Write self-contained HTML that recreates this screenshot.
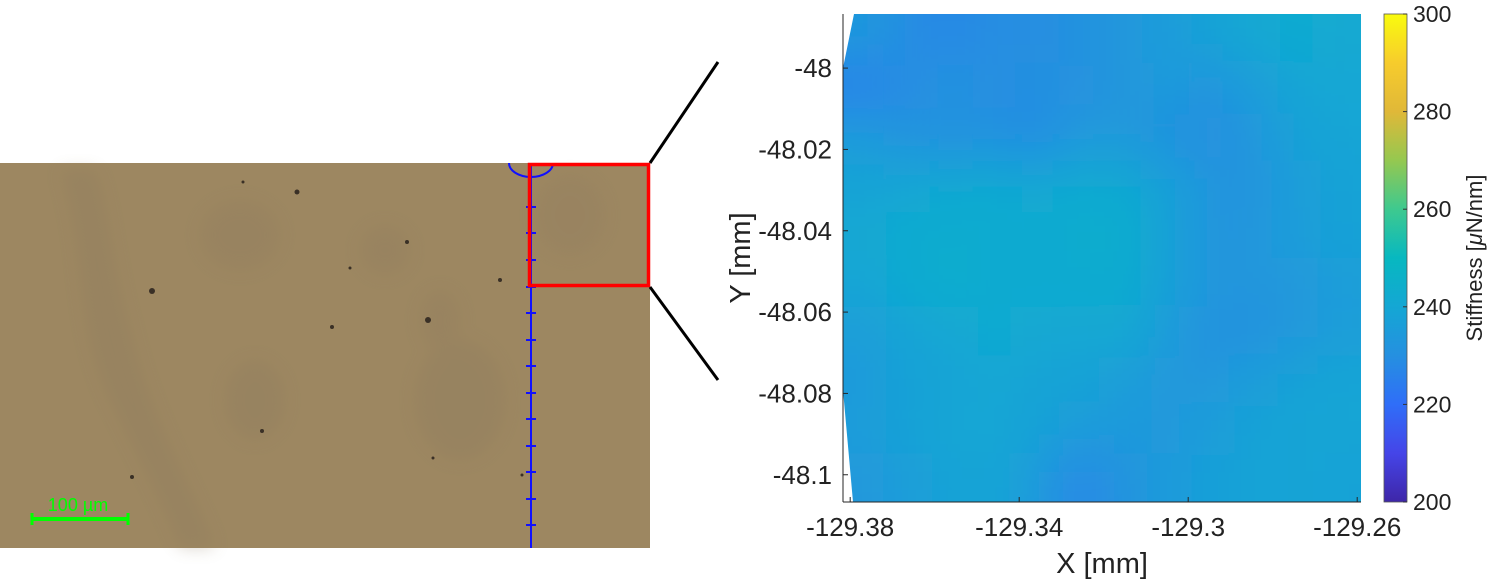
<!DOCTYPE html>
<html><head><meta charset="utf-8"><style>
html,body{margin:0;padding:0;background:#fff;}
svg{display:block;font-family:"Liberation Sans",Arial,sans-serif;}
</style></head><body>
<svg id="fig" width="1495" height="579" viewBox="0 0 1495 579">
<defs>
  <filter id="blur" x="-10%" y="-10%" width="120%" height="120%"><feGaussianBlur stdDeviation="28"/></filter>
  <filter id="blur2"><feGaussianBlur stdDeviation="8"/></filter>
  <clipPath id="dataClip"><polygon points="854,14 1361,14 1361,502 853,502 843,390 843,68"/></clipPath>
  <linearGradient id="cbGrad" x1="0" y1="1" x2="0" y2="0">
    <stop offset="0" stop-color="#3e26a8"/><stop offset="0.1" stop-color="#4545e8"/>
    <stop offset="0.2" stop-color="#2f6ef8"/><stop offset="0.3" stop-color="#2590e0"/>
    <stop offset="0.4" stop-color="#14a7d4"/><stop offset="0.5" stop-color="#07b8c0"/>
    <stop offset="0.6" stop-color="#3ec98f"/><stop offset="0.7" stop-color="#95c850"/>
    <stop offset="0.8" stop-color="#e0b838"/><stop offset="0.9" stop-color="#f7cc2c"/>
    <stop offset="1" stop-color="#f9fb0e"/>
  </linearGradient>
</defs>

<g>
  <rect x="0" y="163" width="650" height="385" fill="#9d8761"/>
  <g filter="url(#blur2)" opacity="0.3">
    <path d="M60,170 C90,260 70,330 120,420 C150,480 170,520 180,548 L215,548 C190,480 150,420 130,330 C110,260 110,210 95,170 Z" fill="#8c7a5e"/>
    <ellipse cx="255" cy="400" rx="30" ry="40" fill="#8c7a5e"/>
    <ellipse cx="240" cy="235" rx="40" ry="35" fill="#8f7c5f"/>
    <ellipse cx="385" cy="250" rx="25" ry="25" fill="#8f7c5f"/>
    <ellipse cx="460" cy="400" rx="45" ry="60" fill="#8c7a5e"/>
    <ellipse cx="440" cy="320" rx="20" ry="30" fill="#8f7c5f"/>
    <ellipse cx="570" cy="215" rx="35" ry="40" fill="#907d60"/>
  </g>
  <g fill="#3a3026">
    <circle cx="152" cy="291" r="3"/><circle cx="297" cy="192" r="2.5"/><circle cx="428" cy="320" r="3"/>
    <circle cx="332" cy="327" r="2"/><circle cx="407" cy="242" r="2"/><circle cx="262" cy="431" r="2"/>
    <circle cx="500" cy="280" r="2"/><circle cx="243" cy="182" r="1.5"/><circle cx="350" cy="268" r="1.5"/>
    <circle cx="433" cy="458" r="1.5"/><circle cx="132" cy="477" r="2"/><circle cx="522" cy="475" r="1.5"/>
  </g>
  <g stroke="#1010ff" stroke-width="2" fill="none">
    <path d="M509,163 A22,14 0 0 0 553,163"/>
    <line x1="531" y1="163" x2="531" y2="548"/>
    <line x1="526" y1="207" x2="536" y2="207"/><line x1="526" y1="233" x2="536" y2="233"/>
    <line x1="526" y1="260" x2="536" y2="260"/><line x1="526" y1="287" x2="536" y2="287"/>
    <line x1="526" y1="313" x2="536" y2="313"/><line x1="526" y1="340" x2="536" y2="340"/>
    <line x1="526" y1="366" x2="536" y2="366"/><line x1="526" y1="393" x2="536" y2="393"/>
    <line x1="526" y1="419" x2="536" y2="419"/><line x1="526" y1="446" x2="536" y2="446"/>
    <line x1="526" y1="472" x2="536" y2="472"/><line x1="526" y1="499" x2="536" y2="499"/>
    <line x1="526" y1="525" x2="536" y2="525"/>
  </g>
  <rect x="529.5" y="164.5" width="119" height="121" fill="none" stroke="#ff0000" stroke-width="3.5"/>
  <g>
    <line x1="32" y1="519" x2="128" y2="519" stroke="#00ff00" stroke-width="4"/>
    <line x1="32" y1="513" x2="32" y2="525" stroke="#00ff00" stroke-width="3"/>
    <line x1="128" y1="513" x2="128" y2="525" stroke="#00ff00" stroke-width="3"/>
    <text x="78" y="511" fill="#00ff00" font-size="18" text-anchor="middle">100 µm</text>
  </g>
</g>
<line x1="650" y1="163" x2="718" y2="62" stroke="#000" stroke-width="3"/>
<line x1="650" y1="287" x2="718" y2="380" stroke="#000" stroke-width="3"/>

<g id="heat" clip-path="url(#dataClip)"><g id="heatInner" filter="url(#blur)"></g></g>
<g id="axes"></g>

<rect x="1384" y="14" width="23" height="488" fill="url(#cbGrad)" stroke="#555" stroke-width="0.8"/>
<g id="cbTicks"></g>
<text transform="translate(1482,258) rotate(-90)" font-size="22" text-anchor="middle" fill="#222">Stiffness [<tspan font-style="italic">μ</tspan>N/nm]</text>
<text x="1102" y="573" font-size="29" text-anchor="middle" fill="#222">X [mm]</text>
<text transform="translate(750,258) rotate(-90)" font-size="29" text-anchor="middle" fill="#222">Y [mm]</text>
</svg>
<script>
const xTicks=[-129.38,-129.34,-129.3,-129.26];
const xTickLabels=["-129.38","-129.34","-129.3","-129.26"];
const yTicks=[-48,-48.02,-48.04,-48.06,-48.08,-48.1];
const yTickLabels=["-48","-48.02","-48.04","-48.06","-48.08","-48.1"];
const cbTicks=[200,220,240,260,280,300];
const stiffRow0=[234,229,227,230,229,231,233,235,238,241,242,241];
const stiffRow1=[225,229,233,229,231,230,233,235,231,235,239,240];
const stiffRow2=[236,231,229,231,227,235,233,231,229,233,238,239];
const stiffRow3=[238,240,242,242,241,242,242,237,233,231,236,238];
const stiffRow4=[241,242,243,242,242,243,244,238,231,233,236,238];
const stiffRow5=[239,242,244,242,242,242,243,237,233,233,233,236];
const stiffRow6=[236,239,240,242,241,240,242,235,230,231,233,236];
const stiffRow7=[234,238,238,240,238,238,236,233,233,236,238,239];
const stiffRow8=[236,238,240,240,238,236,234,233,236,238,239,239];
const stiffRow9=[233,236,238,239,235,226,233,234,237,238,239,238];
const rows=[stiffRow0,stiffRow1,stiffRow2,stiffRow3,stiffRow4,stiffRow5,stiffRow6,stiffRow7,stiffRow8,stiffRow9];

const NS="http://www.w3.org/2000/svg";
const X0=843,X1=1361,Y0=14,Y1=502;
const xMin=-129.3817,xMax=-129.2591,yTop=-47.9867,yBot=-48.1067;
const xs=v=>X0+(v-xMin)/(xMax-xMin)*(X1-X0);
const ys=v=>Y0+(v-yTop)/(yBot-yTop)*(Y1-Y0);
const cs=v=>Y1-(v-200)/100*(Y1-Y0);
const stops=[[0,[62,38,168]],[0.1,[69,69,232]],[0.2,[47,110,248]],[0.3,[37,144,224]],[0.4,[20,167,212]],[0.5,[7,184,192]],[0.6,[62,201,143]],[0.7,[149,200,80]],[0.8,[224,184,56]],[0.9,[247,204,44]],[1,[249,251,14]]];
function col(v){let t=Math.max(0,Math.min(1,(v-200)/100));for(let i=1;i<stops.length;i++){if(t<=stops[i][0]){const a=stops[i-1],b=stops[i];const f=(t-a[0])/(b[0]-a[0]);const c=a[1].map((q,k)=>Math.round(q+(b[1][k]-q)*f));return `rgb(${c})`;}}return 'rgb(249,251,14)';}
function mk(tag,attrs,parent){const e=document.createElementNS(NS,tag);for(const k in attrs)e.setAttribute(k,attrs[k]);parent.appendChild(e);return e;}

const heat=document.getElementById('heatInner');
const nR=rows.length,nC=rows[0].length;
const cw=(X1-X0)/nC,ch=(Y1-Y0)/nR;
mk('rect',{x:X0-80,y:Y0-80,width:X1-X0+160,height:Y1-Y0+160,fill:col(236)},heat);
rows.forEach((r,i)=>r.forEach((v,j)=>{
  let x=X0+j*cw,y=Y0+i*ch,w=cw,h=ch;
  if(j===0){x-=70;w+=70;} if(j===nC-1){w+=70;}
  if(i===0){y-=70;h+=70;} if(i===nR-1){h+=70;}
  const c=mk('rect',{x:x,y:y,width:w+1,height:h+1,fill:col(v)},heat);
  
  
}));

const ax=document.getElementById('axes');
mk('line',{x1:X0,y1:Y0,x2:X0,y2:Y1,stroke:'#262626','stroke-width':1},ax);
mk('line',{x1:X0,y1:Y1,x2:X1,y2:Y1,stroke:'#262626','stroke-width':1},ax);
xTicks.forEach((v,i)=>{const x=xs(v);
  mk('line',{x1:x,y1:Y1,x2:x,y2:Y1-5,stroke:'#262626'},ax);
  const t=mk('text',{x:x,y:Y1+34,'font-size':26,'text-anchor':'middle',fill:'#222'},ax);t.textContent=xTickLabels[i];
  
  });
yTicks.forEach((v,i)=>{const y=ys(v);
  mk('line',{x1:X0,y1:y,x2:X0+5,y2:y,stroke:'#262626'},ax);
  const t=mk('text',{x:X0-11,y:y+9,'font-size':26,'text-anchor':'end',fill:'#222'},ax);t.textContent=yTickLabels[i];
  
  });
const cb=document.getElementById('cbTicks');
cbTicks.forEach(v=>{const y=cs(v);
  mk('line',{x1:1403,y1:y,x2:1407,y2:y,stroke:'#333'},cb);
  const t=mk('text',{x:1413,y:y+8,'font-size':23,fill:'#222'},cb);t.textContent=String(v);
  
  });
</script>
</body></html>
